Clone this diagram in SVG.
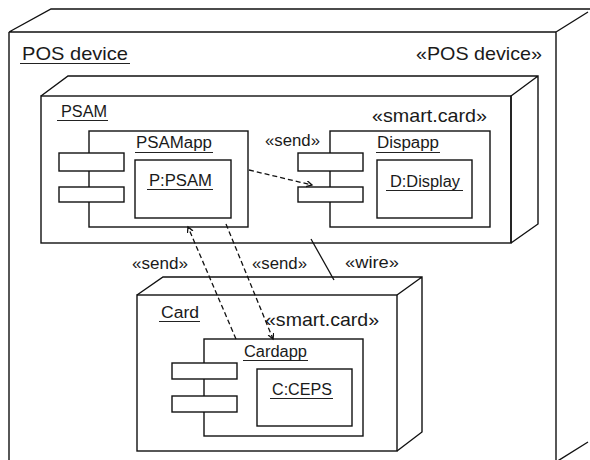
<svg xmlns="http://www.w3.org/2000/svg" width="590" height="460" viewBox="0 0 590 460">
<defs>
<style>
.b{fill:none;stroke:#111;stroke-width:1.4}
.f{fill:#fff;stroke:#111;stroke-width:1.4}
.t{font-family:"Liberation Sans",Arial,sans-serif;fill:#1a1a1a}
.s{font-size:16px}
.L{font-size:19px}
.u{stroke:#222;stroke-width:1.1}
.d{fill:none;stroke:#111;stroke-width:1.3;stroke-dasharray:5 3}
.w{fill:none;stroke:#111;stroke-width:1.3}
</style>
<marker id="oa" markerUnits="userSpaceOnUse" markerWidth="8" markerHeight="8" refX="5.5" refY="3" orient="auto">
<path d="M0,0 L5.5,3 L0,6" fill="none" stroke="#111" stroke-width="1.3" stroke-dasharray="none"/>
</marker>
</defs>
<rect width="590" height="460" fill="#fff"/>

<g id="pos-device">
<path class="b" d="M9,32 L51,9 L590,9 M556,32 L588,12 M556,470 L556,32 M9,32 L556,32 M9,32 L9,470 M556,462 L588,442"/>
<text class="t L" x="22" y="60" textLength="106" lengthAdjust="spacingAndGlyphs">POS device</text>
<line class="u" x1="20" y1="63.5" x2="130" y2="63.5"/>
<text class="t L" x="416" y="60" textLength="126" lengthAdjust="spacingAndGlyphs">«POS device»</text>
</g>

<g id="psam">
<path class="b" d="M41,96 L68,76 L538,76 L538,224 L511,243 M511,243 L511,96 L538,76"/>
<rect class="b" x="41" y="96" width="470" height="147"/>
<text class="t s" x="61" y="117" textLength="46" lengthAdjust="spacingAndGlyphs">PSAM</text>
<line class="u" x1="57" y1="120.5" x2="108" y2="120.5"/>
<text class="t L" x="372" y="122" textLength="115" lengthAdjust="spacingAndGlyphs">«smart.card»</text>
</g>

<g id="psamapp">
<rect class="b" x="89" y="131" width="159" height="96"/>
<rect class="f" x="59" y="153" width="65" height="18"/>
<rect class="f" x="59" y="187" width="65" height="15"/>
<text class="t s" x="136" y="148" textLength="76" lengthAdjust="spacingAndGlyphs">PSAMapp</text>
<line class="u" x1="135" y1="152.5" x2="213" y2="152.5"/>
<rect class="b" x="135" y="160" width="96" height="58"/>
<text class="t s" x="149" y="186" textLength="63" lengthAdjust="spacingAndGlyphs">P:PSAM</text>
<line class="u" x1="147" y1="189.5" x2="213" y2="189.5"/>
</g>

<g id="dispapp">
<rect class="b" x="330" y="131" width="160" height="96"/>
<rect class="f" x="298" y="153" width="65" height="18"/>
<rect class="f" x="298" y="187" width="65" height="15"/>
<text class="t s" x="377" y="148" textLength="62" lengthAdjust="spacingAndGlyphs">Dispapp</text>
<line class="u" x1="376" y1="152.5" x2="440" y2="152.5"/>
<rect class="b" x="377" y="160" width="95" height="58"/>
<text class="t s" x="390" y="187" textLength="70" lengthAdjust="spacingAndGlyphs">D:Display</text>
<line class="u" x1="386" y1="190.5" x2="463" y2="190.5"/>
</g>

<g id="card">
<path class="b" d="M137,295 L163,277 L422,277 L422,432 L397,451 M397,295 L422,277"/>
<rect class="b" x="137" y="295" width="260" height="156"/>
<text class="t s" x="161" y="318" textLength="38" lengthAdjust="spacingAndGlyphs">Card</text>
<line class="u" x1="159" y1="321.5" x2="200" y2="321.5"/>
<text class="t L" x="265" y="326" textLength="114" lengthAdjust="spacingAndGlyphs">«smart.card»</text>
</g>

<g id="cardapp">
<rect class="b" x="204" y="339" width="159" height="97"/>
<rect class="f" x="172" y="363" width="65" height="16"/>
<rect class="f" x="172" y="396" width="65" height="16"/>
<text class="t s" x="244" y="357" textLength="63" lengthAdjust="spacingAndGlyphs">Cardapp</text>
<line class="u" x1="243" y1="360.5" x2="308" y2="360.5"/>
<rect class="b" x="257" y="369" width="95" height="57"/>
<text class="t s" x="272" y="395" textLength="60" lengthAdjust="spacingAndGlyphs">C:CEPS</text>
<line class="u" x1="270" y1="398.5" x2="333" y2="398.5"/>
</g>

<g id="connectors">
<line class="d" x1="249" y1="170" x2="312" y2="185" marker-end="url(#oa)"/>
<line class="d" x1="236" y1="339" x2="188" y2="227" marker-end="url(#oa)"/>
<line class="d" x1="226" y1="224" x2="273" y2="339" marker-end="url(#oa)"/>
<line class="w" x1="311" y1="239" x2="334" y2="280"/>
<text class="t s" x="265" y="146" textLength="55" lengthAdjust="spacingAndGlyphs">«send»</text>
<text class="t s" x="132" y="269" textLength="56" lengthAdjust="spacingAndGlyphs">«send»</text>
<text class="t s" x="252" y="269" textLength="55" lengthAdjust="spacingAndGlyphs">«send»</text>
<text class="t s" x="345" y="268" textLength="54" lengthAdjust="spacingAndGlyphs">«wire»</text>
</g>
</svg>
